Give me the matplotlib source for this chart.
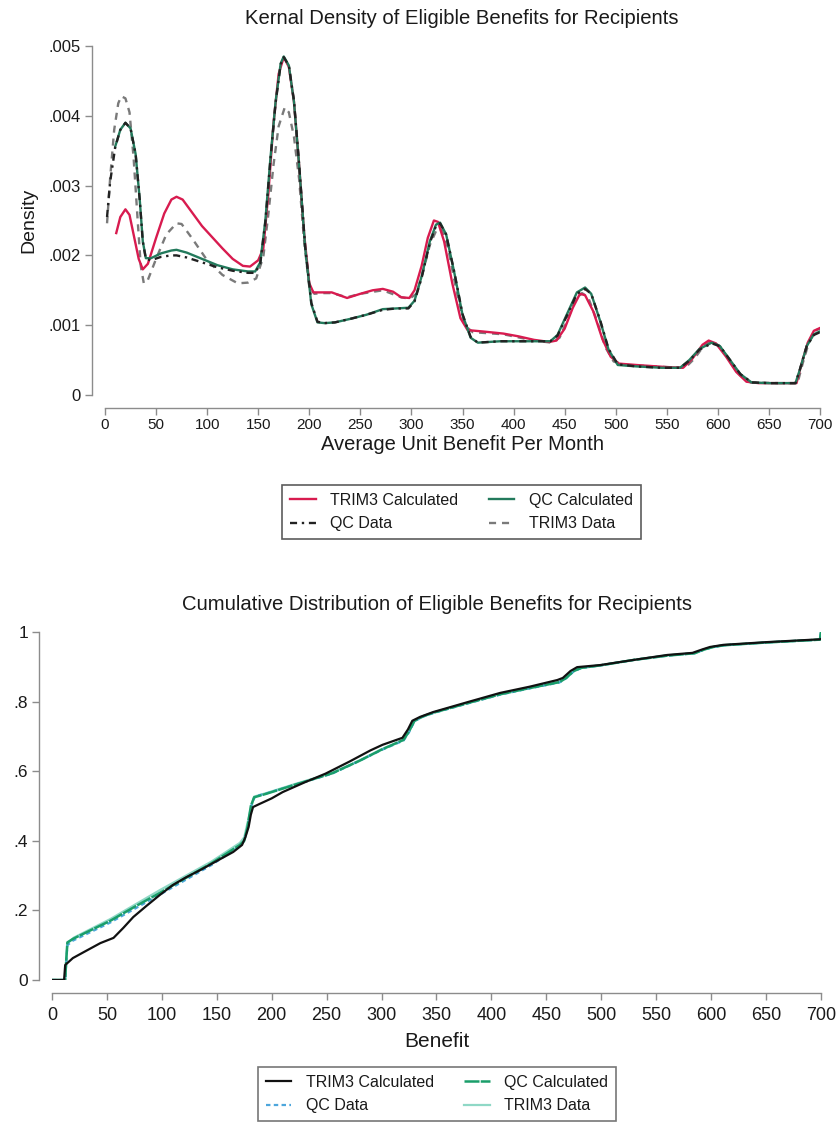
import numpy as np
import matplotlib
matplotlib.use("Agg")
import matplotlib.pyplot as plt
from matplotlib.ticker import FuncFormatter

plt.rcParams['font.family'] = ['Liberation Sans', 'DejaVu Sans']

# ---------------- Kernel density (per-mille density units) ----------------
trim3_calc_x = [11, 15, 20, 24, 28, 33, 37, 42, 50, 58, 65, 70, 76, 85, 95, 105, 115, 125, 135, 142,
                150, 155, 160, 165, 170, 175, 180, 185, 190, 195, 200, 204, 212, 222, 237, 250, 262,
                272, 282, 290, 298, 303, 310, 316, 322, 326, 332, 340, 348, 355, 370, 390, 405, 420,
                435, 442, 450, 458, 465, 470, 478, 487, 495, 503, 520, 550, 566, 575, 585, 591, 598,
                608, 618, 628, 640, 660, 677, 682, 688, 694, 700]
trim3_calc_d = [2.32, 2.55, 2.66, 2.58, 2.30, 1.95, 1.80, 1.88, 2.25, 2.60, 2.80, 2.84, 2.80, 2.62,
                2.42, 2.26, 2.10, 1.95, 1.85, 1.84, 1.93, 2.10, 2.90, 3.90, 4.60, 4.84, 4.70, 4.20,
                3.30, 2.30, 1.60, 1.47, 1.47, 1.47, 1.39, 1.45, 1.50, 1.52, 1.48, 1.40, 1.39, 1.50,
                1.85, 2.25, 2.50, 2.48, 2.20, 1.60, 1.10, 0.93, 0.91, 0.88, 0.84, 0.79, 0.76, 0.78,
                0.95, 1.25, 1.45, 1.43, 1.20, 0.80, 0.55, 0.45, 0.43, 0.40, 0.39, 0.52, 0.72, 0.78,
                0.74, 0.55, 0.33, 0.19, 0.17, 0.17, 0.17, 0.45, 0.75, 0.92, 0.96]

qc_calc_x = [10, 15, 20, 25, 30, 34, 37, 40, 45, 55, 65, 70, 80, 95, 110, 125, 140, 147, 152, 157,
             162, 167, 172, 175, 180, 185, 190, 196, 202, 208, 215, 225, 240, 256, 272, 285, 297,
             303, 310, 318, 324, 328, 334, 342, 350, 358, 365, 387, 420, 436, 443, 452, 462, 470,
             476, 485, 493, 502, 520, 545, 563, 572, 582, 594, 602, 612, 622, 633, 650, 676, 680,
             687, 694, 700]
qc_calc_d = [3.56, 3.80, 3.90, 3.82, 3.45, 2.80, 2.20, 1.96, 1.96, 2.03, 2.07, 2.08, 2.04, 1.95,
             1.86, 1.80, 1.77, 1.77, 1.90, 2.50, 3.40, 4.20, 4.75, 4.85, 4.72, 4.20, 3.30, 2.10,
             1.30, 1.04, 1.03, 1.04, 1.09, 1.15, 1.23, 1.24, 1.25, 1.35, 1.70, 2.20, 2.44, 2.47,
             2.30, 1.75, 1.15, 0.82, 0.75, 0.77, 0.77, 0.77, 0.86, 1.15, 1.47, 1.54, 1.45, 1.05,
             0.65, 0.43, 0.41, 0.39, 0.39, 0.50, 0.66, 0.75, 0.70, 0.50, 0.30, 0.18, 0.17, 0.17,
             0.35, 0.70, 0.87, 0.91]

qc_data_x = [2, 5, 10, 15, 20, 25, 30, 34, 37, 40, 45, 55, 65, 70, 80, 95, 110, 125, 140, 147, 152,
             157, 162, 167, 172, 175, 180, 185, 190, 196, 202, 208, 215, 225, 240, 256, 272, 285,
             297, 303, 310, 318, 324, 328, 334, 342, 350, 358, 365, 387, 420, 436, 443, 452, 462,
             470, 476, 485, 493, 502, 520, 545, 563, 572, 582, 594, 602, 612, 622, 633, 650, 676,
             680, 687, 694, 700]
qc_data_d = [2.55, 3.05, 3.55, 3.80, 3.90, 3.82, 3.45, 2.80, 2.20, 1.95, 1.93, 1.98, 2.00, 2.00,
             1.97, 1.90, 1.83, 1.78, 1.75, 1.75, 1.88, 2.48, 3.38, 4.18, 4.74, 4.84, 4.72, 4.22,
             3.32, 2.12, 1.32, 1.05, 1.03, 1.04, 1.09, 1.15, 1.22, 1.24, 1.24, 1.34, 1.68, 2.18,
             2.42, 2.46, 2.30, 1.76, 1.16, 0.83, 0.75, 0.77, 0.77, 0.77, 0.85, 1.13, 1.45, 1.52,
             1.45, 1.06, 0.66, 0.44, 0.41, 0.39, 0.39, 0.49, 0.65, 0.74, 0.70, 0.50, 0.30, 0.18,
             0.17, 0.17, 0.35, 0.70, 0.86, 0.90]

trim3_data_x = [2, 5, 9, 13, 16, 20, 24, 28, 32, 35, 38, 42, 50, 60, 70, 75, 85, 100, 115, 130, 140,
                148, 155, 160, 165, 170, 176, 180, 185, 190, 195, 200, 205, 212, 222, 237, 250, 272,
                290, 298, 305, 312, 318, 325, 330, 336, 344, 352, 360, 390, 420, 437, 445, 452, 460,
                467, 473, 482, 490, 498, 510, 550, 568, 577, 587, 594, 602, 612, 622, 632, 660, 678,
                683, 689, 695, 700]
trim3_data_d = [2.46, 3.10, 3.80, 4.18, 4.28, 4.25, 4.05, 3.40, 2.50, 1.85, 1.60, 1.65, 1.95, 2.30,
                2.46, 2.45, 2.25, 1.93, 1.72, 1.60, 1.61, 1.67, 1.98, 2.60, 3.30, 3.85, 4.12, 4.05,
                3.70, 3.10, 2.20, 1.55, 1.45, 1.46, 1.46, 1.40, 1.45, 1.50, 1.40, 1.38, 1.45, 1.80,
                2.15, 2.38, 2.36, 2.10, 1.50, 1.00, 0.90, 0.87, 0.78, 0.75, 0.82, 1.05, 1.35, 1.46,
                1.40, 1.05, 0.68, 0.48, 0.43, 0.40, 0.39, 0.52, 0.72, 0.77, 0.70, 0.48, 0.28, 0.18,
                0.17, 0.17, 0.45, 0.75, 0.92, 0.95]

density_ticks = [0, 0.001, 0.002, 0.003, 0.004, 0.005]
benefit_ticks = list(range(0, 701, 50))

# ---------------- Cumulative distribution ----------------
cdf_trim3_calc_x = [0, 11, 12, 19, 30, 44, 56, 65, 74, 86, 98, 110, 122, 135, 150, 165, 173, 176,
                    179, 181, 183, 189, 200, 210, 230, 249, 271, 290, 301, 319, 324, 328, 335, 347,
                    380, 408, 435, 460, 465, 472, 478, 499, 530, 560, 583, 592, 599, 611, 651, 699, 700]
cdf_trim3_calc_y = [0, 0, 0.043, 0.063, 0.082, 0.106, 0.121, 0.150, 0.181, 0.213, 0.244, 0.273,
                    0.295, 0.316, 0.342, 0.368, 0.388, 0.410, 0.440, 0.475, 0.497, 0.506, 0.522,
                    0.540, 0.568, 0.593, 0.628, 0.660, 0.676, 0.696, 0.720, 0.745, 0.756, 0.770,
                    0.800, 0.825, 0.843, 0.862, 0.868, 0.888, 0.899, 0.905, 0.920, 0.934, 0.940,
                    0.950, 0.957, 0.963, 0.971, 0.979, 0.980]

cdf_qc_calc_x = [0, 12, 13, 14, 19, 30, 53, 75, 98, 120, 145, 171, 175, 178, 181, 184, 195, 220,
                 255, 280, 300, 320, 325, 330, 338, 347, 380, 408, 435, 462, 468, 475, 482, 499, 530,
                 560, 585, 594, 602, 612, 651, 699, 700]
cdf_qc_calc_y = [0, 0, 0.060, 0.108, 0.118, 0.135, 0.170, 0.210, 0.250, 0.290, 0.335, 0.388, 0.400,
                 0.440, 0.500, 0.525, 0.535, 0.560, 0.594, 0.630, 0.662, 0.690, 0.715, 0.745, 0.758,
                 0.768, 0.797, 0.821, 0.839, 0.856, 0.868, 0.888, 0.897, 0.904, 0.920, 0.932, 0.939,
                 0.950, 0.957, 0.962, 0.970, 0.978, 1.0]

cdf_qc_data_x = [0, 12, 14, 19, 53, 98, 145, 171, 175, 179, 182, 185, 195, 220, 255, 280, 300, 320,
                 325, 330, 338, 347, 380, 408, 435, 462, 468, 475, 482, 499, 530, 560, 585, 594, 602,
                 612, 651, 699, 700]
cdf_qc_data_y = [0, 0, 0.100, 0.113, 0.165, 0.245, 0.330, 0.385, 0.400, 0.450, 0.510, 0.528, 0.536,
                 0.560, 0.593, 0.630, 0.661, 0.688, 0.712, 0.744, 0.757, 0.767, 0.796, 0.820, 0.838,
                 0.855, 0.867, 0.887, 0.897, 0.904, 0.920, 0.932, 0.939, 0.950, 0.957, 0.962, 0.970,
                 0.978, 1.0]

cdf_trim3_data_x = [0, 12, 14, 20, 53, 98, 145, 171, 175, 180, 184, 195, 220, 255, 280, 300, 320,
                    325, 330, 338, 347, 380, 408, 435, 462, 468, 475, 482, 499, 530, 560, 585, 594,
                    602, 612, 651, 699, 700]
cdf_trim3_data_y = [0, 0, 0.105, 0.122, 0.175, 0.258, 0.340, 0.394, 0.410, 0.480, 0.527, 0.537,
                    0.562, 0.595, 0.631, 0.663, 0.690, 0.713, 0.745, 0.758, 0.768, 0.798, 0.822,
                    0.840, 0.857, 0.868, 0.888, 0.897, 0.904, 0.920, 0.933, 0.939, 0.950, 0.957,
                    0.962, 0.970, 0.978, 1.0]

cdf_ticks = [0, 0.2, 0.4, 0.6, 0.8, 1.0]

W, H = 839, 1125
fig = plt.figure(figsize=(W / 100, H / 100), dpi=100)
fig.patch.set_facecolor('white')

AXIS_GREY = '#8c8c8c'
TEXT = '#1a1a1a'
OFF = 13 * 72 / 100  # outward spine offset in points


def px_axes(left, right, top, bottom):
    return fig.add_axes([left / W, 1 - bottom / H, (right - left) / W, (bottom - top) / H])


def style_axes(ax, xticks, yticks, yfmt, xsize, ysize, xpad):
    for s in ('top', 'right'):
        ax.spines[s].set_visible(False)
    for s in ('left', 'bottom'):
        ax.spines[s].set_color(AXIS_GREY)
        ax.spines[s].set_linewidth(1.0)
        ax.spines[s].set_position(('outward', OFF))
    ax.spines['left'].set_bounds(yticks[0], yticks[-1])
    ax.spines['bottom'].set_bounds(xticks[0], xticks[-1])
    ax.set_xticks(xticks)
    ax.set_yticks(yticks)
    ax.yaxis.set_major_formatter(FuncFormatter(yfmt))
    ax.tick_params(axis='both', colors=AXIS_GREY, length=5, width=1.0, labelcolor=TEXT)
    ax.tick_params(axis='x', labelsize=xsize, pad=xpad)
    ax.tick_params(axis='y', labelsize=ysize, pad=3)
    ax.patch.set_alpha(0)


def stata_num(v, pos):
    s = ('%g' % round(v, 6))
    if s.startswith('0.'):
        s = s[1:]
    return s


def make_legend(handles, labels, cx, cy, edge):
    leg = fig.legend(handles, labels, ncol=2, loc='center',
                     bbox_to_anchor=(cx / W, 1 - cy / H),
                     frameon=True, fancybox=False, edgecolor=edge, fontsize=11.5,
                     handlelength=1.6, columnspacing=1.9, labelspacing=0.55,
                     borderpad=0.5, handletextpad=0.9, borderaxespad=0)
    leg.get_frame().set_linewidth(1.2)
    for t in leg.get_texts():
        t.set_color(TEXT)
    return leg


# ---------------- Top: kernel density ----------------
ax1 = px_axes(105, 820, 46, 395)
scale = 1e-3
ax1.plot(trim3_data_x, np.array(trim3_data_d) * scale, color='#7a7a7a', lw=1.7,
         dashes=(3, 2.5), label='TRIM3 Data')
ax1.plot(trim3_calc_x, np.array(trim3_calc_d) * scale, color='#d81b4f', lw=1.7,
         label='TRIM3 Calculated')
ax1.plot(qc_calc_x, np.array(qc_calc_d) * scale, color='#237a5c', lw=1.7,
         label='QC Calculated')
ax1.plot(qc_data_x, np.array(qc_data_d) * scale, color='#222222', lw=1.7,
         dashes=(3, 2, 1, 2), label='QC Data')
ax1.set_xlim(0, 700)
ax1.set_ylim(0, 0.005)
style_axes(ax1, benefit_ticks, density_ticks, stata_num, 11, 12, 2)
ax1.set_ylabel('Density', fontsize=14, color=TEXT, labelpad=8)
ax1.set_xlabel('Average Unit Benefit Per Month', fontsize=14.5, color=TEXT, labelpad=2)
fig.text(462 / W, 1 - 18 / H, 'Kernal Density of Eligible Benefits for Recipients',
         ha='center', va='center', fontsize=14.6, color=TEXT)

order = ['TRIM3 Calculated', 'QC Data', 'QC Calculated', 'TRIM3 Data']
h1 = {l.get_label(): l for l in ax1.get_lines()}
make_legend([h1[k] for k in order], order, (283 + 640) / 2, (483 + 541) / 2, '#333333')

# ---------------- Bottom: cumulative distribution ----------------
ax2 = px_axes(52, 821, 632, 980)
ax2.plot(cdf_trim3_data_x, cdf_trim3_data_y, color='#8fd8c6', lw=1.6, label='TRIM3 Data')
ax2.plot(cdf_qc_data_x, cdf_qc_data_y, color='#4da6dc', lw=1.6, dashes=(2, 1.5), label='QC Data')
ax2.plot(cdf_qc_calc_x, cdf_qc_calc_y, color='#1a9e6a', lw=1.8, dashes=(6, 0.5), label='QC Calculated')
ax2.plot(cdf_trim3_calc_x, cdf_trim3_calc_y, color='#111111', lw=1.6, label='TRIM3 Calculated')
ax2.set_xlim(0, 700)
ax2.set_ylim(0, 1.0)
style_axes(ax2, benefit_ticks, cdf_ticks, stata_num, 13, 12.5, 5)
ax2.set_xlabel('Benefit', fontsize=15, color=TEXT, labelpad=6)
fig.text(437 / W, 1 - 605 / H, 'Cumulative Distribution of Eligible Benefits for Recipients',
         ha='center', va='center', fontsize=14.6, color=TEXT)

h2 = {l.get_label(): l for l in ax2.get_lines()}
make_legend([h2[k] for k in order], order, (257 + 617) / 2, (1068 + 1120) / 2, '#555555')

fig.savefig('out.png', dpi=100, facecolor='white')
